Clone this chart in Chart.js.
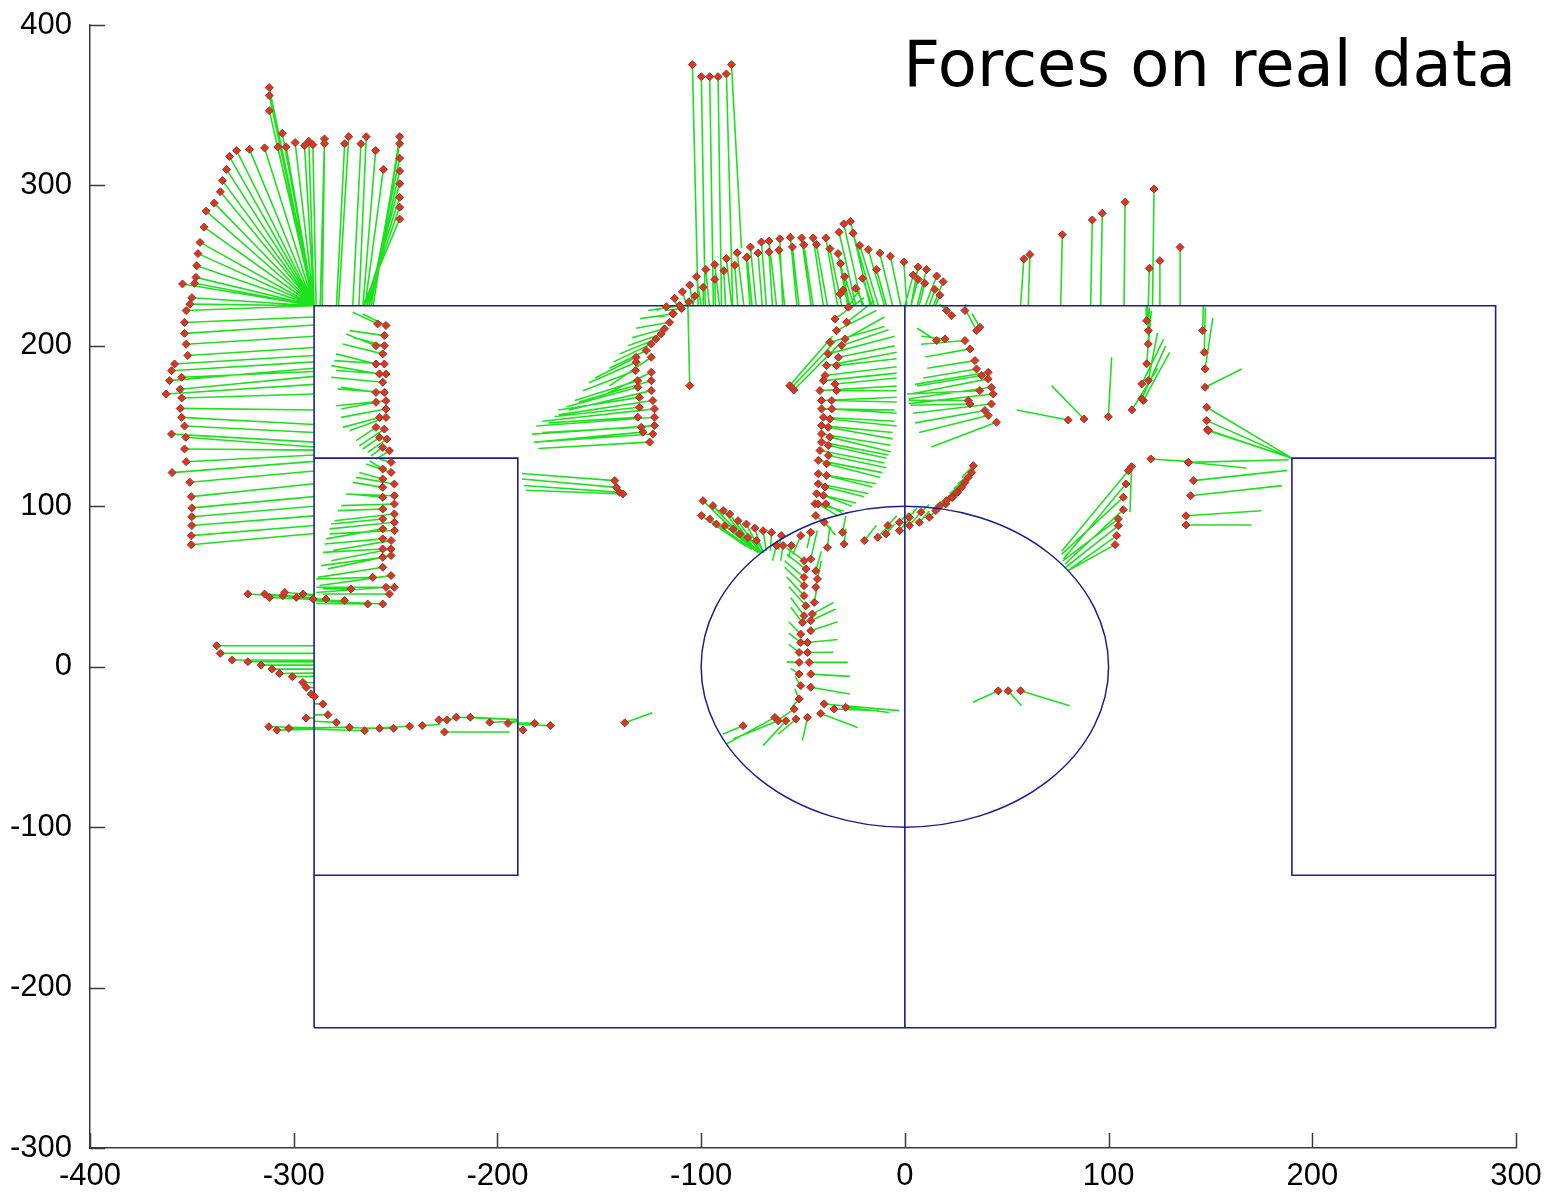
<!DOCTYPE html>
<html>
<head>
<meta charset="utf-8">
<script src="https://cdn.jsdelivr.net/npm/chart.js@4.4.1/dist/chart.umd.min.js"></script>
<style>
  html, body { margin: 0; padding: 0; background: #fff; }
  #wrap { width: 1548px; height: 1194px; }
</style>
</head>
<body>
<div id="wrap"><canvas id="c" width="1548" height="1194"></canvas></div>
<script>
/* ================================================================
   Forces on real data — measured points (red) and force vectors (green)
   each row: [x, y, forceEndX, forceEndY]
   ================================================================ */

const TITLE = 'Forces on real data';
const X_TICKS = [-400, -300, -200, -100, 0, 100, 200, 300];
const Y_TICKS = [-300, -200, -100, 0, 100, 200, 300, 400];

// field markings (polylines) and centre circle
const FIELD_LINES = [
    [[-290, -225], [290, -225], [290, 225], [-290, 225], [-290, -225]],
    [[0, -225], [0, 225]],
    [[-290, 130], [-190, 130], [-190, -130], [-290, -130]],
    [[290, 130], [190, 130], [190, -130], [290, -130]],
];
const CIRCLE_CENTER = [0, 0];
const CIRCLE_RADIUS = 100;

const fanTopLeft = [
    [-352.8,222,-290,225],[-351,226,-290,225],[-350,230,-290,225],[-354.6,238.6,-290,225],
    [-348.7,239,-290,225],[-348,242.7,-290,225],[-347.6,250,-290,225],[-347,257.5,-290,225],
    [-346,264.5,-290,225],[-344,274,-290,225],[-343,284,-290,225],[-339,289,-290,225],
    [-336,296,-290,225],[-335,303,-290,225],[-333,310,-290,225],[-331.5,318,-290,225],
    [-328,321.7,-290,225],[-321.7,322.5,-290,225],[-314.3,323.4,-290,225],[-307.8,324,-290,225],
    [-303.7,324,-290,225],[-299.3,326.7,-290,225],[-294.7,324.8,-290,225],[-292.6,327.5,-290,225],
    [-290.6,325.4,-289,225],[-312,361,-290,225],[-312,356,-290,225],[-312,346.6,-290,225],
    [-305.6,332.5,-290,225],[-284.9,329,-287,225],[-284.9,326,-286,225],[-275,326,-279,225],
    [-273,330.4,-278,225],[-267,326,-271,225],[-264.4,330.4,-268,225],[-259.8,321.7,-266,225],
    [-256,310,-265,225],[-248,330.4,-261,225],[-248,326,-262,225],[-248,317,-263,225],
    [-248,309,-263,225],[-248,301,-264,225],[-248,292.6,-265,225],[-248,286.4,-265,225],
    [-248,279,-266,225],
];

const leftWall = [
    [-353.6,214.6,-290,218],[-353.6,207.8,-290,213],[-352.8,201,-290,206],[-352,194,-290,199],
    [-358.5,188.7,-290,194],[-360,184.5,-290,190],[-361,178.3,-290,186],[-355,180.4,-290,184],
    [-355.7,173,-290,181],[-362.6,170,-290,176],[-355,167.5,-290,170],[-355.7,161,-290,160],
    [-355,155.4,-290,151],[-353.6,150,-290,146],[-360,145,-290,140],[-353,143,-290,137],
    [-353.6,135.7,-290,135],[-352.8,127.8,-290,132],[-359.7,121,-290,128],[-351,115,-290,122],
    [-350.3,106,-290,114],[-350,99,-290,106],[-350,93.5,-290,100],[-350,88,-290,94],
    [-350.3,81.7,-290,88],[-350.3,76,-290,83],
];

const wallColumnUpper = [
    [-258.8,213.7,-271,220.9],[-254.7,212.7,-266.1,219.9],[-255.5,206.4,-272.6,209.5],
    [-259.6,200.1,-274.3,207.4],[-255.5,200.1,-271,205.3],[-256.3,195,-275.9,201.2],
    [-259.6,188.7,-279.2,195],[-255.5,188.7,-280,190.8],[-257.9,182.5,-281.6,187.7],
    [-254.7,182.5,-279.2,184.6],[-256.3,177.3,-281.6,180.4],[-259.6,171,-276.7,174.2],
    [-255.5,171,-278.4,173.2],[-254.7,165.8,-279.2,162.7],[-259.6,164.8,-276.7,160.6],
    [-254.7,160.6,-276.7,155.4],[-257.9,155.4,-275.9,149.2],[-254.7,155.4,-272.6,147.1],
    [-259.6,149.2,-269.4,140.9],[-255.5,148.1,-267.8,137.7],[-257.9,143,-266.1,135.7],
    [-254.3,141.9,-263.7,133.6],[-256.3,136.7,-262,131.5],[-253,134.6,-259.6,129.4],
];

const wallColumnLower = [
    [-252.2,127.4,-257.9,129.4],[-256.3,123.2,-262.8,128.4],[-252.2,121.1,-264.5,126.3],
    [-256.3,117,-267.8,121.1],[-250.6,113.9,-269.4,118],[-256.3,111.8,-271,114.9],
    [-250.6,106.6,-274.3,107.7],[-256.3,105.6,-272.6,107.7],[-250.6,101.4,-276.7,100.4],
    [-256.3,98.3,-278.4,97.3],[-250.6,95.2,-280,91],[-256.3,92.1,-281.6,89],
    [-250.6,90,-282.4,85.9],[-256.3,85.9,-284.1,79.7],[-250.6,84.9,-282.4,82.8],
    [-256.3,79.7,-284.9,76.5],[-252.2,78.6,-280.8,72.4],[-256.3,73.4,-285.7,71.3],
    [-252.2,73.4,-281.6,66.1],[-256.3,68.2,-286.5,63],[-252.2,69.3,-283.2,61],
    [-256.3,62,-288.1,55.7],[-261.2,55.7,-289,54.7],[-252.2,56.8,-287.3,50.6],
    [-250.6,49.5,-289,49.5],[-254.7,49.5,-289,46.3],[-253,45.3,-285.7,45.3],
    [-256.3,39.1,-290.6,41.2],[-263.7,39.1,-289,39.5],[-271.9,48.5,-285.7,48.5],
    [-275.1,41.2,-289,41.2],[-284.1,42.2,-289,42.2],
    [-322.5,45.3,-290,43],[-314.3,45.3,-290,43],[-311.8,43.2,-290,42],[-305.3,44.3,-290,43],
    [-304.4,46.3,-290,45],[-298.7,43.2,-290,43],[-295.4,45.3,-290,44],[-290.5,42.2,-289,42],
];

const lowerLeft = [
    [-337.8,13.1,-290,13.1],[-336.1,8.3,-290,8.3],[-330.2,4.2,-290,4],[-322.5,3.1,-290,3],
    [-316,1,-290,1],[-310.6,-1.5,-290,-1.5],[-307,-4.2,-290,-4],[-300.7,-6.2,-290,-6],
    [-295.5,-9.8,-290,-10],[-293.9,-12.9,-290,-13],[-291.4,-17,-290,-16],[-289.8,-18.7,-290,-18],
    [-285.7,-23.3,-290,-23],[-283.2,-29.9,-290,-30],[-293.9,-32,-290,-32],[-279.1,-34.7,-290,-34],
    [-312.2,-37.4,-290,-38],[-308.3,-39.5,-290,-39],[-302.4,-38.4,-272.6,-37.8],[-272.6,-37.8,-290,-38],
    [-265.2,-39.9,-290,-39],[-257.9,-38.4,-272,-38],[-251,-38.4,-265,-38.5],[-243.1,-37.1,-258,-38],
    [-236.9,-36.7,-228,-36],[-228.7,-33.1,-225,-33],[-224.8,-33.1,-220,-32],[-220.2,-31.5,-190,-33],
    [-213.3,-31.5,-190,-33],[-203.8,-34.6,-190,-34],[-194.8,-35.3,-190,-34],[-187.5,-39.5,-190,-38],
    [-181.7,-35.3,-190,-35],[-174,-36.7,-190,-36],[-226,-40.7,-194,-40.7],[-137.5,-35,-124,-28.7],
];

const spikeAndArc = [
    [-104.3,375.3,-101.5,225],[-99.9,367.8,-98,225],[-95.8,367.8,-94,225],[-91.7,367.8,-90,225],
    [-87.6,369.5,-84.5,225],[-85.1,375.3,-80.2,261],
    [-113,229.6,-112,225],[-109.2,233.7,-107,225],[-105.6,237.9,-104,225],[-102.3,243.1,-100,225],
    [-97.7,247.6,-96,225],[-93.3,250.7,-91,225],[-87.6,254.4,-85,225],[-82.3,258,-79,225],
    [-77.4,255.4,-75,225],[-75.8,261.6,-73,225],[-72.1,257.9,-70,225],[-70.4,264.7,-68,225],
    [-66.7,265.3,-63,225],[-66.7,258.6,-65,225],[-61.4,266.7,-60,225],[-61.8,259.6,-59,225],
    [-56.2,267.7,-53,225],[-55.2,261.6,-52,225],[-50.7,267.3,-46,225],[-49.6,263,-45,225],
    [-45,267.3,-40,225],[-43.4,263.2,-38,225],[-38.8,267.3,-33,225],[-36.8,260.6,-31,225],
    [-32.3,270.8,-24,225],[-30,276,-21,225],[-26.7,277.6,-17,225],[-25.4,270.2,-15,225],
    [-22.1,262.6,-13,225],[-18,260,-10,225],[-12.3,257.9,-6,225],[-7.1,255.9,-2,225],
    [-0.5,252.3,1,225],[6.5,249.2,3,225],[10.6,247.6,6,225],[15.6,243.5,10,225],[18.8,240,14,225],
    [-117.1,224.4,-122,222],[-113.8,220.2,-120,218],[-109.7,223.3,-118,222],[-106,227.5,-108,225],
    [-103.1,231,-104,225],[-99,236.5,-99,225],[-93.3,241.4,-93,225],[-88.9,246.8,-88,225],
    [-83.5,250.3,-82,225],[-77.8,255,-76,225],[-32.8,257.5,-28,225],[-31.6,251.3,-27,225],
    [-29.5,243.1,-25,225],[-30.3,234.8,-27,225],[-24.1,235.8,-20,225],[-20.8,242.1,-16,225],
    [-13.9,247.6,-9,225],[4.1,244.1,0,225],[6.5,241.4,3,225],[9.8,239,7,225],
    [14.7,235.2,12,225],[17.2,231.6,15,225],
];

const sCurve = [
    [-110.6,225.1,-126,222],[-113.9,219.9,-130,217],[-115.5,214.7,-132,211],[-118,210.6,-134,205],
    [-119.6,207.4,-136,200],[-122.1,204.3,-140,195],[-124.5,201.2,-143,190],[-127,197.1,-145,186],
    [-131.9,192.9,-152,180],[-131.9,189.8,-155,177],[-132.2,184.6,-158,172],[-131.1,178.3,-162,166],
    [-131.1,174.2,-166,162],[-130.3,167.9,-170,160],[-130.3,161.7,-172,156],[-131.1,155.5,-175,152],
    [-129.4,149.3,-178,146],[-128.6,146.2,-181,140],
    [-124.5,192.9,-145,175],[-124.5,183.5,-150,168],[-124.5,178.3,-160,165],[-124.5,172.1,-165,160],
    [-123.7,165.9,-170,157],[-122.9,160.7,-178,153],[-122.9,155.5,-181,150],[-122.9,150.3,-183,145],
    [-123.7,145.1,-182,140],[-125.3,140,-180,136],
    [-105.6,175.2,-106.5,225],
    [-142.4,116,-188,120.4],[-141.6,111.8,-188,117],[-140,108.7,-187,113],[-138.4,107.7,-186,110],
];

const middleColumn = [
    [-56.5,175.2,-35.5,206],[-54.5,172.5,-33,200],[-55.5,174,-34,203],
    [-31.8,232.4,-28,240],[-27.7,224.1,-22,236],[-34.3,216.8,-20,230],[-28.5,214.7,-15,228],
    [-33.5,209.5,-14,222],[-29.3,204.3,-10,218],[-36.8,202.2,-10,212],[-31,200.2,-8,210],
    [-37.6,195,-5,206],[-32.6,192.9,-5,200],[-38.4,187.7,-4,196],[-33.5,187.7,-4,192],
    [-39.2,181.5,-4,187],[-34.3,176.2,-4,180],[-40,178.3,-4,183],[-41.7,172.1,-4,175],
    [-33.5,172.1,-4,172],[-40.9,165.9,-4,168],[-35.9,165.9,-4,165],[-40.9,160.7,-5,160],
    [-35.9,160.7,-4,158],[-40,155.5,-5,153],[-36.8,154.4,-4,150],[-40.9,150.3,-6,146],
    [-37.6,149.3,-6,142],[-40.9,145.1,-7,138],[-36.8,143.1,-7,134],[-40.9,140,-8,132],
    [-37.6,137.9,-9,130],[-41.7,134.8,-10,127],[-37.6,131.7,-9,124],[-42.5,128.6,-11,121],
    [-38.4,126.5,-12,118],[-42.5,120.3,-14,114],[-38.4,119.2,-16,112],[-42.5,114,-18,108],
    [-39.2,112,-20,106],[-43.3,107.8,-24,102],[-40,106.8,-26,100],[-44.1,101.6,-30,97],
    [-42.6,101.5,-33,94],[-38.8,101.5,-31,96],[-43.7,94.2,-36,86],[-39.6,90,-34,82],
    [-38,74.4,-37,86],[-30.6,83.8,-29,94],[-29.8,76.5,-29,86],
];

const circleTop = [
    [-99.1,103.5,-80,80],[-94.2,100.4,-77,77],[-89.2,97.3,-75,75],[-86,95.2,-74,74],
    [-81.9,91,-72,73],[-77.8,88.9,-71,72],[-73.7,86.4,-70,72],[-69.6,84.8,-68,72],
    [-65.5,83.7,-66,72],[-60.6,81.7,-62,73],
    [-99.9,94.2,-78,75],[-95.8,92.1,-76,74],[-92.5,88.9,-75,73],[-88.4,87.9,-73,72],
    [-84.3,85.8,-72,71],[-81.1,82.7,-71,71],[-77,80.6,-70,71],[-72.9,78.6,-69,71],
    [-63,75.5,-65,66],[-59.8,75.5,-61,66],[-55.7,75.5,-57,68],[-51.1,81.7,-55,70],[-46.2,83.8,-48,74],
    [-19.9,78.6,-14,88],[-13.3,80.7,-8,88],[-9.2,82.8,-5,89],[-8.3,88,-4,94],[-2.7,84.8,2,92],
    [-2.7,90,2,96],[2.2,88,7,95],[2.2,93.1,6,99],[7.1,90,12,97],[7.9,96.3,12,101],
    [12,93.1,17,100],[15.2,97.3,20,104],[20.1,101.5,25,108],[23.4,105.6,28,111],[25.9,108.7,30,114],
    [17.2,100.4,14,99],[20.5,103.5,15,100],[23,105.6,17,102],[25.4,108.7,19,104],
    [27.9,111.8,21,106],[29.5,114.9,22,108],[31.1,118,24,111],[32.8,121.1,26,114],[33.6,125.3,28,118],
];

const insideCircle = [
    [-49.5,66.1,-58,74],[-48.6,60.9,-58,70],[-49.5,55.7,-59,66],[-49.5,50.5,-59,62],
    [-49.5,44.3,-58,56],[-48.6,38,-57,50],[-49.5,31.8,-56,43],[-50.3,27.6,-56,37],
    [-51.1,20.3,-57,28],[-51.1,15.1,-57,21],[-51.9,8.9,-57,14],[-51.9,2.7,-58,3],
    [-51.9,-4.6,-56,-1],[-51.1,-11.8,-54,-6],[-51.9,-20.1,-54,-14],
    [-46.2,67.1,-43,85],[-43.7,59.8,-41,72],[-42.9,54.7,-41,66],[-43.7,49.5,-42,60],
    [-44.5,40.1,-43,50],[-45.4,32.8,-35,40],[-46.2,28.7,-34,36],[-46.2,22.4,-33,28],
    [-47.8,15.1,-33,17],[-47.8,8.9,-35,9],[-47,2.7,-28,2.7],[-46.2,-4.6,-27,-6],[-46.2,-12.8,-27,-17],
    [-79.4,-36.8,-89.2,-42],[-63.8,-31.6,-87.6,-48.2],[-62.2,-33.7,-84.3,-45.1],[-58.4,-33.7,-69.6,-49.2],
    [-53.5,-32.6,-62,-42],[-47.8,-31.6,-50.3,-46.1],[-54.3,-26.4,-62,-33],[-51.9,-20.1,-56,-26],
    [-39.6,-23.2,-2.7,-27.4],[-34.7,-26.4,-12.5,-27.4],[-29,-25.3,-7.6,-28.5],[-41.3,-29.1,-23.2,-37.9],
    [45.8,-15,33.5,-22.2],[50.7,-15,57.3,-24.3],[56.8,-15,80.9,-24.3],
];

const rightCluster = [
    [20.5,222,17,226],[23,218.9,19,225],[29.5,222,30,226],[35.2,209.5,30,222],[36.8,211.6,33,220],
    [15.6,203.3,6,211],[19.7,204.3,8,206],[29.5,203.3,8,201],[32,198.1,10,193],[34.4,190.8,11,186],
    [35.2,185.6,9,180],[37.7,181.5,6,175],[40.9,183.5,5,176],[40.9,179.4,3,170],[42.5,174.2,2,167],
    [43.4,170,2,164],[36.8,172.1,1,170],[31.1,165.9,2,166],[32,163.8,3,163],[42.5,163.8,4,158],
    [39.3,159.7,5,152],[40.9,156.6,7,146],[45,152.4,13,137],
];

const rightSide = [
    [58.4,254.2,56.8,225],[61.4,256.9,60.6,225],[77.3,269.3,76.5,225],[92,278.5,91.2,225],
    [96.9,282.6,96.1,225],[108.1,289.5,107.6,225],[122.3,297.8,121.6,225],[120,248.3,119.5,225],
    [125.2,253.1,125.2,225],[135.1,261.4,135.1,225],
    [118.7,215.7,118.5,225],[119.5,209.5,119,225],[119.5,201.2,120,224],[118.7,188.8,121,222],
    [119.5,178.4,124,208],[116.3,176.3,127,204],[117.1,166,130,196],[116.3,167,128,200],[111.5,160.1,124,186],
    [146.2,209.5,146.5,225],[147,196,147.5,224],[147.4,185.6,151.2,217.5],[147.4,174.2,165.4,185.6],
    [148.2,161.7,190,130],[148.2,153.4,190,130],[148.5,147.7,190,130],[149,147.1,190,130],
    [80.2,153.8,54.9,160],[87.9,154.4,72,175.2],[99.9,155.8,101.5,192.9],
    [120.7,129.5,138.3,128],[139.2,127.4,188.3,129],[139.2,127.4,167.8,123.9],[141.6,116,187.8,122.4],
    [140.3,106.6,185.1,112.9],[138,94.1,175.1,97.2],[138,88.3,170.2,88.3],
    [111.3,124.7,110.5,96.3],[109.7,122.2,77,72],[108.5,113.9,77.8,67],[107.2,105.6,77,70],
    [107.2,97.9,78.6,64],[104.8,92.1,77.5,66],[104.8,87.9,79,62],[104,81.7,80.2,60],[103.2,76.1,80.2,60],
];

const GREEN = '#1fe01f';
const RED   = '#d8362a';
const NAVY  = '#1d1d8c';
const AXIS  = '#3a3a3a';

/* ---------------------------------------------------------------------------
   build datasets
   --------------------------------------------------------------------------- */
const allSegments = [
    fanTopLeft, leftWall, wallColumnUpper, wallColumnLower, lowerLeft,
    spikeAndArc, sCurve, middleColumn, circleTop, insideCircle, rightCluster, rightSide,
].flat();

const forceData = [];
allSegments.forEach(([x, y, fx, fy]) => {
    forceData.push({ x, y }, { x: fx, y: fy }, { x: fx, y: null });
});
const pointData = allSegments.map(([x, y]) => ({ x, y }));

const fieldData = [];
FIELD_LINES.forEach(line => {
    line.forEach(([x, y]) => fieldData.push({ x, y }));
    fieldData.push({ x: line[line.length - 1][0], y: null });
});

/* circle, inward ticks and title */
const decorPlugin = {
    id: 'decor',
    afterDatasetsDraw(chart) {
        const { ctx, scales: { x, y } } = chart;
        ctx.save();
        const cx = x.getPixelForValue(CIRCLE_CENTER[0]);
        const cy = y.getPixelForValue(CIRCLE_CENTER[1]);
        const rx = x.getPixelForValue(CIRCLE_CENTER[0] + CIRCLE_RADIUS) - cx;
        const ry = cy - y.getPixelForValue(CIRCLE_CENTER[1] + CIRCLE_RADIUS);
        ctx.strokeStyle = NAVY;
        ctx.lineWidth = 1.5;
        ctx.beginPath();
        ctx.ellipse(cx, cy, rx, ry, 0, 0, Math.PI * 2);
        ctx.stroke();
        ctx.restore();
    },
    afterDraw(chart) {
        const { ctx, chartArea: a, scales: { x, y } } = chart;
        ctx.save();
        ctx.strokeStyle = AXIS;
        ctx.lineWidth = 1.5;
        ctx.beginPath();
        X_TICKS.forEach(v => {
            const px = Math.round(x.getPixelForValue(v)) + 0.5;
            ctx.moveTo(px, a.bottom);
            ctx.lineTo(px, a.bottom - 15);
        });
        Y_TICKS.forEach(v => {
            const py = Math.round(y.getPixelForValue(v)) + 0.5;
            ctx.moveTo(a.left, py);
            ctx.lineTo(a.left + 15, py);
        });
        ctx.stroke();

        ctx.fillStyle = '#000';
        ctx.font = '64px "DejaVu Sans"';
        ctx.textAlign = 'right';
        ctx.textBaseline = 'alphabetic';
        ctx.fillText(TITLE, 1516, 86);
        ctx.restore();
    },
};

const tickFont = { family: '"Liberation Sans", Arial, sans-serif', size: 31, lineHeight: 0.95 };

new Chart(document.getElementById('c').getContext('2d'), {
    type: 'scatter',
    plugins: [decorPlugin],
    data: {
        datasets: [
            {
                label: 'points', data: pointData, order: 0,
                pointStyle: 'rectRot', pointRadius: 4,
                backgroundColor: RED, borderColor: '#8e3f22', borderWidth: 1,
                showLine: false,
            },
            {
                label: 'field', data: fieldData, order: 1,
                showLine: true, spanGaps: false, pointRadius: 0,
                borderColor: NAVY, borderWidth: 1.6, fill: false,
            },
            {
                label: 'forces', data: forceData, order: 2,
                showLine: true, spanGaps: false, pointRadius: 0,
                borderColor: GREEN, borderWidth: 1.6, fill: false,
            },
        ],
    },
    options: {
        responsive: false,
        animation: false,
        events: [],
        layout: { padding: { top: 25, right: 32, left: 0, bottom: 0 } },
        plugins: { legend: { display: false }, tooltip: { enabled: false } },
        scales: {
            x: {
                type: 'linear', min: -400, max: 300,
                afterBuildTicks: s => { s.ticks = X_TICKS.map(v => ({ value: v })); },
                afterFit: s => { s.height = 46; },
                ticks: { color: '#000', font: tickFont, padding: 6, maxRotation: 0 },
                grid: { display: false },
                border: { display: true, color: AXIS, width: 1.5 },
            },
            y: {
                type: 'linear', min: -300, max: 400,
                afterBuildTicks: s => { s.ticks = Y_TICKS.map(v => ({ value: v })); },
                afterFit: s => { s.width = 90; },
                ticks: { color: '#000', font: tickFont, padding: 10 },
                grid: { display: false },
                border: { display: true, color: AXIS, width: 1.5 },
            },
        },
    },
});
</script>
</body>
</html>
